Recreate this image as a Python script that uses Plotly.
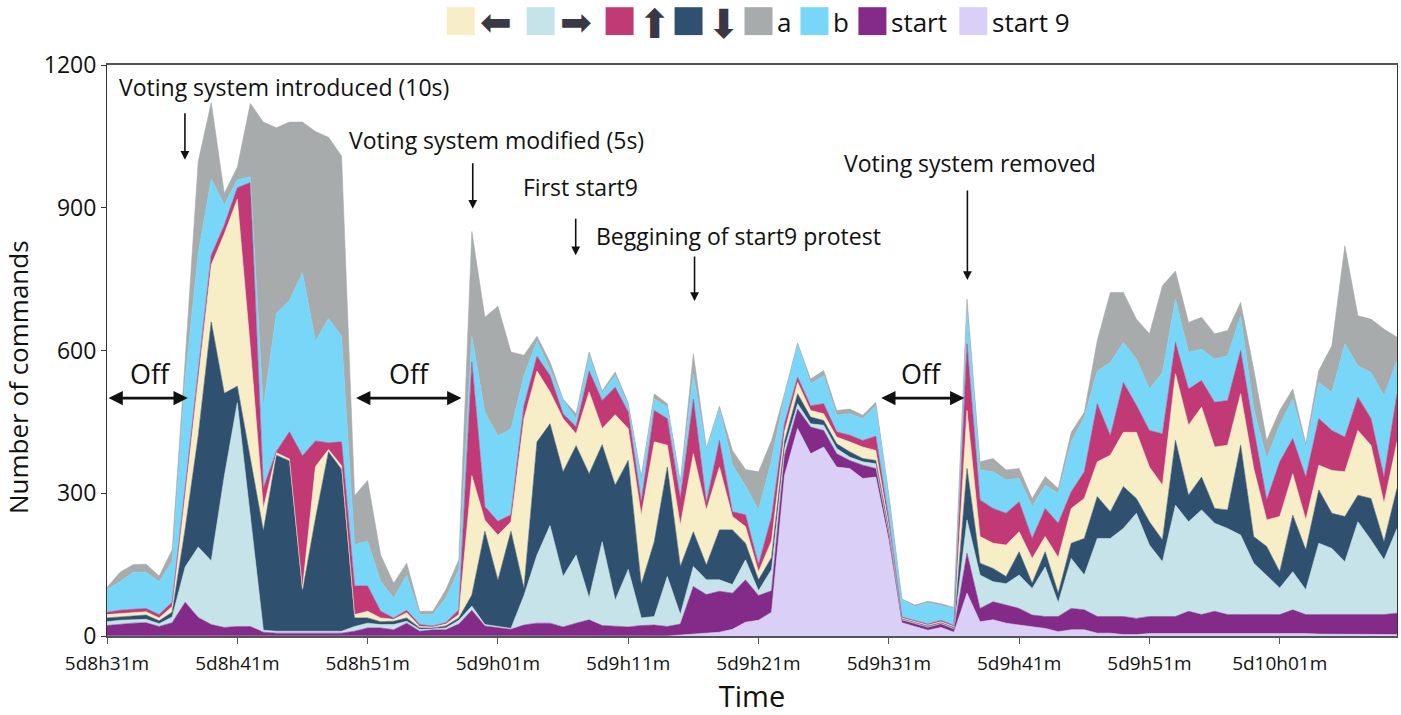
import plotly.graph_objects as go

# ---- data (minutes after 5d8h31m, one sample per minute) ----
minutes = list(range(100))
tick_vals = [0, 10, 20, 30, 40, 50, 60, 70, 80, 90]
tick_text = ["5d8h31m", "5d8h41m", "5d8h51m", "5d9h01m", "5d9h11m",
             "5d9h21m", "5d9h31m", "5d9h41m", "5d9h51m", "5d10h01m"]

start9 = [0, 0, 0, 0, 0, 0, 0, 0, 0, 0,
          0, 0, 0, 0, 0, 0, 0, 0, 0, 0,
          0, 0, 0, 0, 0, 0, 0, 0, 0, 0,
          0, 0, 0, 0, 0, 0, 0, 0, 0, 0,
          0, 0, 0, 0, 2, 4, 5, 8, 14, 29,
          33, 50, 338, 436, 383, 397, 355, 352, 331, 334,
          200, 28, 20, 12, 18, 8, 90, 30, 34, 27,
          23, 20, 16, 9, 13, 13, 6, 6, 3, 3,
          5, 5, 5, 5, 5, 6, 5, 5, 5, 5,
          5, 5, 5, 4, 4, 4, 3, 3, 3, 3]
start = [22, 25, 27, 28, 20, 28, 71, 39, 24, 18,
         20, 20, 8, 6, 6, 6, 6, 6, 6, 10,
         17, 17, 13, 27, 10, 13, 13, 25, 54, 21,
         18, 14, 23, 27, 27, 19, 27, 34, 22, 20,
         19, 22, 23, 20, 23, 100, 82, 86, 76, 89,
         52, 45, 42, 41, 56, 35, 28, 17, 28, 18,
         12, 5, 6, 6, 7, 6, 84, 28, 38, 38,
         35, 24, 25, 32, 45, 42, 35, 35, 38, 34,
         36, 36, 36, 47, 40, 46, 40, 40, 40, 40,
         40, 50, 40, 41, 41, 41, 42, 42, 42, 45]
right = [8, 8, 7, 7, 6, 12, 74, 148, 134, 317,
         470, 230, 4, 4, 4, 4, 4, 4, 4, 10,
         10, 7, 11, 4, 4, 2, 4, 8, 9, 3,
         2, 2, 62, 143, 205, 106, 143, 46, 176, 55,
         121, 16, 18, 105, 20, 42, 31, 24, 18, 42,
         10, 45, 15, 11, 7, 11, 11, 7, 7, 10,
         6, 2, 2, 1, 2, 2, 70, 70, 42, 45,
         70, 56, 104, 29, 105, 73, 164, 164, 185, 221,
         150, 115, 234, 188, 220, 185, 181, 167, 108, 83,
         56, 80, 52, 150, 139, 111, 195, 157, 115, 178]
down = [8, 7, 8, 9, 6, 10, 80, 233, 502, 175,
        35, 120, 209, 370, 358, 84, 237, 377, 340, 18,
        11, 6, 7, 7, 3, 2, 4, 5, 23, 196,
        97, 204, 15, 238, 214, 220, 230, 261, 204, 242,
        229, 70, 157, 230, 101, 73, 31, 105, 115, 35,
        23, 25, 15, 21, 14, 10, 10, 11, 7, 7,
        6, 1, 1, 2, 1, 2, 108, 25, 28, 15,
        49, 11, 32, 20, 32, 77, 88, 56, 88, 31,
        49, 46, 136, 56, 69, 31, 39, 189, 56, 60,
        34, 119, 84, 112, 74, 95, 56, 87, 38, 84]
left = [7, 7, 7, 7, 6, 12, 72, 120, 120, 335,
        393, 235, 47, 5, 4, 6, 109, 5, 8, 7,
        14, 8, 4, 11, 3, 2, 4, 7, 251, 23,
        95, 20, 357, 149, 67, 112, 25, 172, 34, 148,
        67, 146, 210, 46, 87, 164, 116, 132, 28, 35,
        17, 35, 20, 24, 14, 14, 14, 21, 24, 21,
        8, 2, 2, 2, 2, 2, 122, 56, 53, 66,
        42, 52, 32, 75, 73, 84, 73, 119, 114, 139,
        115, 115, 140, 147, 147, 129, 136, 108, 143, 56,
        116, 87, 63, 52, 90, 94, 136, 112, 81, 98]
up = [5, 7, 7, 7, 7, 9, 15, 16, 20, 18,
      24, 348, 43, 3, 57, 279, 54, 14, 50, 60,
      53, 14, 3, 5, 4, 2, 3, 10, 239, 29,
      29, 15, 27, 31, 34, 10, 15, 44, 59, 58,
      35, 28, 66, 56, 56, 115, 15, 56, 10, 25,
      15, 50, 17, 11, 10, 21, 11, 14, 14, 30,
      13, 2, 2, 2, 3, 2, 140, 77, 73, 67,
      63, 42, 59, 72, 35, 56, 122, 41, 105, 57,
      77, 108, 66, 76, 56, 94, 94, 91, 84, 42,
      115, 74, 90, 98, 84, 73, 70, 56, 55, 101]
b = [48, 60, 78, 76, 69, 86, 228, 248, 161, 43,
     17, 12, 170, 290, 276, 385, 210, 261, 222, 87,
     94, 63, 42, 74, 21, 24, 52, 85, 54, 199,
     180, 180, 63, 32, 14, 28, 17, 31, 15, 25,
     13, 49, 24, 24, 31, 52, 110, 67, 99, 60,
     115, 120, 58, 70, 46, 59, 35, 45, 46, 64,
     45, 36, 29, 45, 31, 36, 73, 63, 77, 70,
     49, 67, 49, 63, 105, 115, 69, 154, 84, 97,
     87, 129, 91, 77, 66, 91, 94, 73, 42, 87,
     77, 83, 63, 76, 80, 196, 66, 97, 171, 70]
a = [4, 20, 16, 17, 12, 24, 40, 193, 160, 24,
     26, 154, 599, 390, 375, 316, 440, 381, 379, 103,
     128, 55, 31, 25, 7, 7, 17, 20, 220, 199,
     272, 162, 43, 10, 15, 3, 10, 9, 5, 7,
     6, 4, 11, 7, 4, 43, 5, 5, 30, 35,
     80, 41, 5, 2, 10, 11, 10, 10, 7, 7,
     8, 2, 3, 3, 4, 2, 21, 17, 28, 21,
     21, 17, 18, 10, 20, 10, 64, 147, 105, 84,
     116, 182, 59, 63, 67, 53, 53, 28, 83, 38,
     31, 21, 7, 25, 98, 206, 105, 112, 140, 49]

# stacking order bottom -> top, and legend order
series = [
    ("start 9", start9, "#DACFF7"),
    ("start", start, "#842A88"),
    ("→", right, "#C5E3E9"),
    ("↓", down, "#30506F"),
    ("←", left, "#F7EDC7"),
    ("↑", up, "#C13A76"),
    ("b", b, "#78D6F8"),
    ("a", a, "#A7ABAB"),
]
legend_order = ["←", "→", "↑", "↓", "a", "b", "start", "start 9"]
legend_glyph = {"←": "⬅", "→": "➡", "↑": "⬆", "↓": "⬇"}

FONT = "Open Sans, Noto Sans, DejaVu Sans, sans-serif"

fig = go.Figure()
for name, vals, col in series:
    fig.add_trace(go.Scatter(
        x=minutes, y=vals, name=name, stackgroup="one", mode="lines",
        line=dict(width=0.6, color=col), fillcolor=col, showlegend=False,
        hovertemplate=name + ": %{y}<extra></extra>"))

W, H = 1401, 715
L, R, T, B = 107, 3, 65, 77
PW, PH = W - L - R, H - T - B


def px(xp):
    return (xp - L) / PW


def py(yp):
    return (H - B - yp) / PH


# ---- manual legend (large square swatches) ----
colors = {n: c for n, _, c in series}
sw_x = {"←": 447, "→": 527, "↑": 606, "↓": 675, "a": 745, "b": 801,
        "start": 859, "start 9": 960}
glyph_size = {"←": 38, "→": 38, "↑": 40, "↓": 40}
glyph_y = {"←": 22, "→": 22, "↑": 24, "↓": 24}
shapes = []
annotations = []
for n in legend_order:
    x0 = sw_x[n]
    shapes.append(dict(type="rect", xref="paper", yref="paper",
                       x0=px(x0), x1=px(x0 + 28), y0=py(35), y1=py(7),
                       fillcolor=colors[n], line=dict(width=0)))
    if n in legend_glyph:
        annotations.append(dict(
            xref="paper", yref="paper", x=px(x0 + 49), y=py(glyph_y[n]),
            text=legend_glyph[n], showarrow=False, xanchor="center", yanchor="middle",
            font=dict(family="DejaVu Sans", size=glyph_size[n], color="#3A3845")))
    else:
        annotations.append(dict(
            xref="paper", yref="paper", x=px(x0 + 31), y=py(22),
            text=n, showarrow=False, xanchor="left", yanchor="middle",
            font=dict(family=FONT, size=26, color="#111")))

# ---- event annotations ----
notes = [
    ("Voting system introduced (10s)", 0.77, 1154),
    ("Voting system modified (5s)", 18.4, 1043),
    ("First start9", 31.75, 944),
    ("Beggining of start9 protest", 37.35, 840),
    ("Voting system removed", 56.44, 995),
]
for txt, xx, yy in notes:
    annotations.append(dict(x=xx, y=yy, xref="x", yref="y", text=txt,
                            showarrow=False, xanchor="left", yanchor="middle",
                            font=dict(family=FONT, size=23, color="#111")))

arrows = [(5.98, 1001, -48), (28.07, 898, -47), (35.97, 800, -38),
          (45.09, 704, -46), (66.03, 748, -91)]
for xx, yy, ay in arrows:
    annotations.append(dict(x=xx, y=yy, xref="x", yref="y", text="", showarrow=True,
                            ax=0, ay=ay, arrowhead=2, arrowsize=1.1, arrowwidth=1.6,
                            arrowcolor="#111", standoff=0))

offs = [(0.0, 6.2, 3.3), (19.0, 27.2, 23.2), (59.3, 65.8, 62.5)]
for x0, x1, xc in offs:
    annotations.append(dict(x=x1, y=500, ax=x0, ay=500, xref="x", yref="y",
                            axref="x", ayref="y", text="", showarrow=True,
                            arrowside="end+start", arrowhead=2, arrowsize=1.1,
                            arrowwidth=2.6, arrowcolor="#111", standoff=0, startstandoff=0))
    annotations.append(dict(x=xc, y=551, xref="x", yref="y", text="Off",
                            showarrow=False, xanchor="center", yanchor="middle",
                            font=dict(family=FONT, size=27, color="#111")))

# y-axis title placed as in the reference (slightly below the plot centre)
annotations.append(dict(xref="paper", yref="paper", x=px(18), y=py(378),
                        text="Number of commands", textangle=-90, showarrow=False,
                        xanchor="center", yanchor="middle",
                        font=dict(family=FONT, size=26, color="#111")))

fig.update_layout(
    width=W, height=H, margin=dict(l=L, r=R, t=T, b=B, pad=0),
    paper_bgcolor="white", plot_bgcolor="white", showlegend=False,
    font=dict(family=FONT, color="#111"),
    shapes=shapes, annotations=annotations,
    xaxis=dict(range=[0, 99], tickvals=tick_vals, ticktext=tick_text,
               showgrid=False, zeroline=False, showline=True, linecolor="#555",
               linewidth=1.5, mirror=True, ticks="outside", ticklen=6, tickcolor="#555",
               ticklabelstandoff=3,
               tickfont=dict(family=FONT, size=19, color="#111"),
               title=dict(text="Time", font=dict(family=FONT, size=29, color="#111"),
                          standoff=16)),
    yaxis=dict(range=[0, 1200], tickvals=[0, 300, 600, 900, 1200],
               showgrid=False, zeroline=False, showline=True, linecolor="#333",
               linewidth=1, mirror=True, ticks="outside", ticklen=5, tickcolor="#333",
               tickfont=dict(family=FONT, size=23, color="#111")),
)

fig.write_html("out.html", config={"displayModeBar": False},
               post_script="document.body.style.margin='0';document.body.style.overflow='hidden';")
